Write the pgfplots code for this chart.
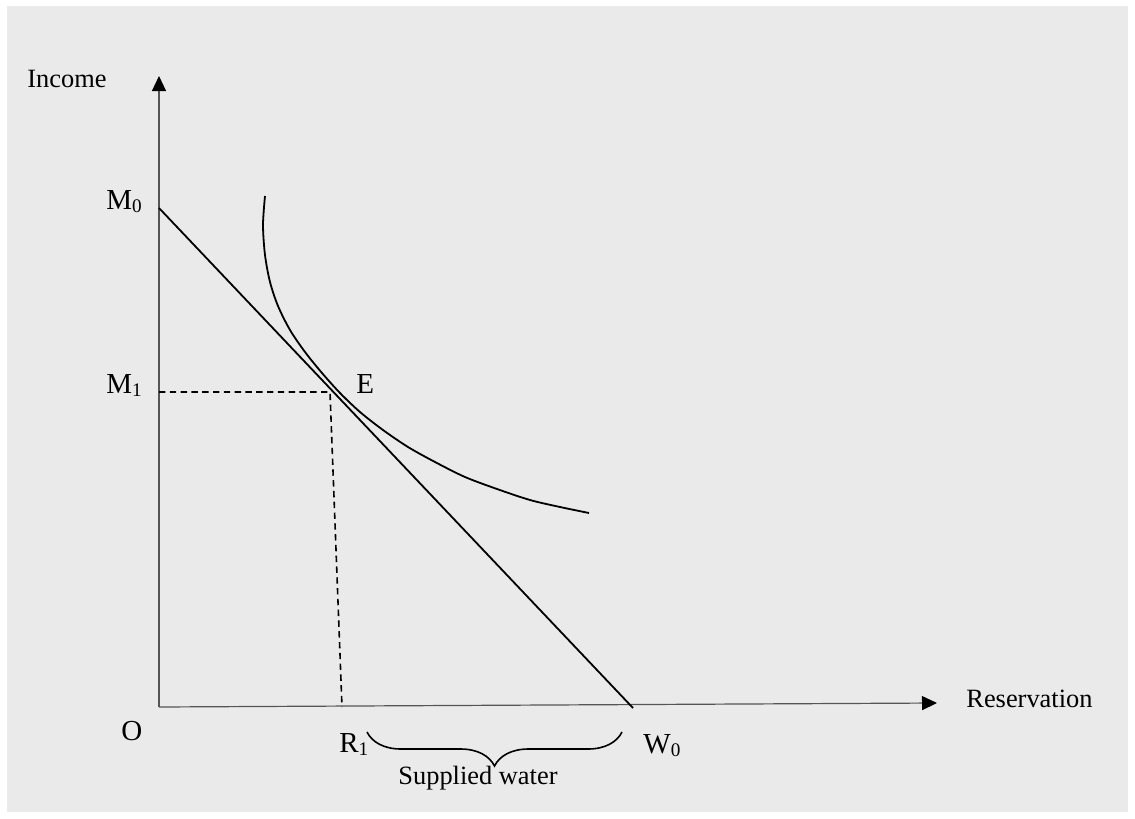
\documentclass[border=0pt]{standalone}
\usepackage{fontspec}
\setmainfont{Liberation Serif}
\usepackage{pgfplots}
\pgfplotsset{compat=1.18}
\usetikzlibrary{arrows.meta,decorations.pathreplacing}
\definecolor{bg}{RGB}{234,234,234}
\definecolor{axgray}{RGB}{85,85,85}
\newcommand{\lab}[2]{{\fontsize{14.5}{16}\selectfont #1\raisebox{-1.5pt}{\fontsize{9.6}{10}\selectfont #2}}}
\begin{document}
\begin{tikzpicture}
\begin{axis}[
  scale only axis, width=567.5pt, height=409.5pt,
  xmin=0, xmax=1135, ymin=0, ymax=819, y dir=reverse,
  axis lines=none, clip=false,
  axis background/.style={fill=white},
]
\fill[bg] (axis cs:7,6) rectangle (axis cs:1128,812);
% axes
\addplot[color=axgray, line width=0.6pt, -{Triangle[length=7.5pt,width=7pt,color=black,fill=black]}] coordinates {(159,707) (937,703)};
\addplot[color=axgray, line width=0.6pt, -{Triangle[length=7.5pt,width=7pt,color=black,fill=black]}] coordinates {(159,707) (159,76)};
% budget line
\addplot[black, line width=0.9pt] coordinates {(159,208) (633,708)};
% indifference curve
\addplot[black, line width=0.9pt, smooth] coordinates {
 (265,196) (263,225) (265,255) (270,282) (278,306) (290,330) (305,352)
 (322,373) (340,393) (360,412) (383,430) (408,447) (435,462) (465,477)
 (497,489) (530,500) (560,507) (589,513)};
% dashed guides
\addplot[black, line width=0.8pt, dash pattern=on 3.2pt off 2.2pt] coordinates {(159,392) (330,392) (342,707)};
% brace
\draw[black, line width=0.8pt, decorate, decoration={brace, amplitude=17pt, mirror}] (axis cs:367,732) -- (axis cs:622,732);
% labels
\node[anchor=base west, inner sep=0pt] at (axis cs:27,87) {\fontsize{13.2}{15}\selectfont Income};
\node[anchor=base west, inner sep=0pt] at (axis cs:966,707) {\fontsize{13.2}{15}\selectfont Reservation};
\node[anchor=base, inner sep=0pt] at (axis cs:478,784) {\fontsize{13.2}{15}\selectfont Supplied water};
\node[anchor=base west, inner sep=0pt] at (axis cs:106,209) {\lab{M}{0}};
\node[anchor=base west, inner sep=0pt] at (axis cs:106,393) {\lab{M}{1}};
\node[anchor=base west, inner sep=0pt] at (axis cs:356,393) {\lab{E}{}};
\node[anchor=base west, inner sep=0pt] at (axis cs:121,740) {\lab{O}{}};
\node[anchor=base west, inner sep=0pt] at (axis cs:339,752) {\lab{R}{1}};
\node[anchor=base west, inner sep=0pt] at (axis cs:643,753) {\lab{W}{0}};
\end{axis}
\end{tikzpicture}
\end{document}
